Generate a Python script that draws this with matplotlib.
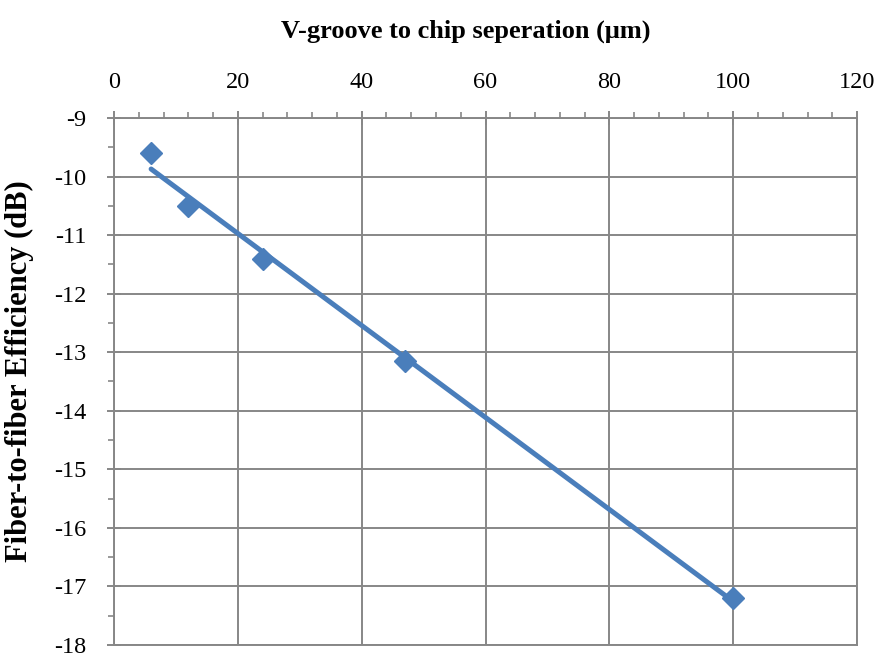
import numpy as np
import matplotlib
matplotlib.use("Agg")
import matplotlib.pyplot as plt
from matplotlib.ticker import MultipleLocator

separation_um = [6, 12, 24, 47, 100]
efficiency_db = [-9.6, -10.5, -11.4, -13.15, -17.2]

x_ticks = [0, 20, 40, 60, 80, 100, 120]
y_ticks = [-18, -17, -16, -15, -14, -13, -12, -11, -10, -9]

plt.rcParams["font.family"] = ["Liberation Serif", "DejaVu Serif"]
plt.rcParams["axes.unicode_minus"] = False

blue = "#4A7EBB"
grid_gray = "#878787"

fig = plt.figure(figsize=(8.8, 6.53), dpi=100)
ax = fig.add_axes([0.1295, 0.0123, 0.8445, 0.807])

# linear trend over the measured range
coef = np.polyfit(separation_um, efficiency_db, 1)
xs = np.array([min(separation_um), max(separation_um)])
ax.plot(xs, np.polyval(coef, xs), color=blue, lw=3.6, solid_capstyle="round", zorder=3)

ax.plot(separation_um, efficiency_db, ls="none", marker="D", ms=11,
        color=blue, mec=blue, zorder=4)

ax.set_xlim(0, 120)
ax.set_ylim(-18, -9)
ax.set_xticks(x_ticks)
ax.set_yticks(y_ticks)
ax.xaxis.set_minor_locator(MultipleLocator(4))
ax.yaxis.set_minor_locator(MultipleLocator(0.5))

ax.xaxis.tick_top()
ax.xaxis.set_label_position("top")

ax.grid(True, which="major", color=grid_gray, lw=1.4)
ax.set_axisbelow(True)

for side, sp in ax.spines.items():
    sp.set_color(grid_gray)
    sp.set_linewidth(1.4)

ax.tick_params(axis="both", which="major", direction="inout", length=10, width=1.4,
               color=grid_gray, labelsize=17.5, labelcolor="black")
ax.tick_params(axis="both", which="minor", direction="out", length=4.5, width=1.2,
               color=grid_gray)
ax.tick_params(axis="x", which="major", pad=13)
ax.tick_params(axis="y", which="major", pad=15)

ax.set_xlabel("V-groove to chip seperation (\u03bcm)", fontsize=19, fontweight="bold")
ax.set_ylabel("Fiber-to-fiber Efficiency (dB)", fontsize=22, fontweight="bold")
ax.xaxis.set_label_coords(0.473, 1.152)
ax.yaxis.set_label_coords(-0.108, 0.52)

fig.savefig("out.png", dpi=100)
